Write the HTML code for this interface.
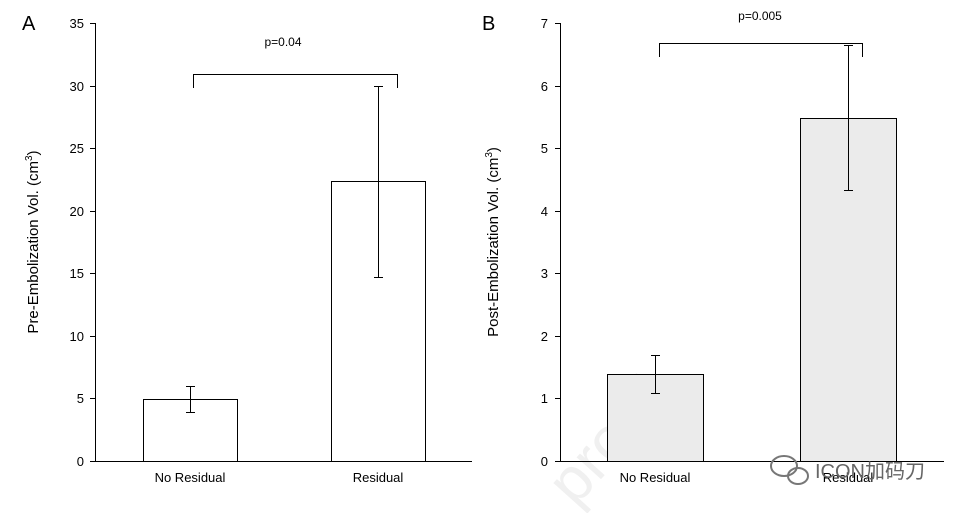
<!DOCTYPE html>
<html><head><meta charset="utf-8"><style>
html,body{margin:0;padding:0;background:#fff;}
svg{display:block;}
text{font-family:"Liberation Sans",Arial,sans-serif;fill:#000;}
</style></head><body>
<svg width="974" height="513" viewBox="0 0 974 513" xmlns="http://www.w3.org/2000/svg">
<text transform="translate(575,508) rotate(-48)" font-size="62" style="fill:#f0f0f0">proof</text>
<g stroke="#000" stroke-width="1" fill="none">
  <line x1="95.5" y1="23" x2="95.5" y2="461"/>
  <line x1="95" y1="461.5" x2="472" y2="461.5"/>
  <g>
    <line x1="90" y1="23.5" x2="95" y2="23.5"/>
    <line x1="90" y1="86.5" x2="95" y2="86.5"/>
    <line x1="90" y1="148.5" x2="95" y2="148.5"/>
    <line x1="90" y1="211.5" x2="95" y2="211.5"/>
    <line x1="90" y1="273.5" x2="95" y2="273.5"/>
    <line x1="90" y1="336.5" x2="95" y2="336.5"/>
    <line x1="90" y1="398.5" x2="95" y2="398.5"/>
    <line x1="90" y1="461.5" x2="95" y2="461.5"/>
  </g>
  <rect x="143.5" y="399.5" width="94" height="62" fill="#fff"/>
  <rect x="331.5" y="181.5" width="94" height="280" fill="#fff"/>
  <line x1="190.5" y1="386" x2="190.5" y2="412"/>
  <line x1="186" y1="386.5" x2="195" y2="386.5"/>
  <line x1="186" y1="412.5" x2="195" y2="412.5"/>
  <line x1="378.5" y1="86" x2="378.5" y2="277"/>
  <line x1="374" y1="86.5" x2="383" y2="86.5"/>
  <line x1="374" y1="277.5" x2="383" y2="277.5"/>
  <polyline points="193.5,88 193.5,74.5 397.5,74.5 397.5,88"/>

  <line x1="560.5" y1="23" x2="560.5" y2="461"/>
  <line x1="560" y1="461.5" x2="944" y2="461.5"/>
  <line x1="555" y1="23.5" x2="560" y2="23.5"/>
  <line x1="555" y1="86.5" x2="560" y2="86.5"/>
  <line x1="555" y1="148.5" x2="560" y2="148.5"/>
  <line x1="555" y1="211.5" x2="560" y2="211.5"/>
  <line x1="555" y1="273.5" x2="560" y2="273.5"/>
  <line x1="555" y1="336.5" x2="560" y2="336.5"/>
  <line x1="555" y1="398.5" x2="560" y2="398.5"/>
  <line x1="555" y1="461.5" x2="560" y2="461.5"/>
  <rect x="607.5" y="374.5" width="96" height="87" fill="#ebebeb"/>
  <rect x="800.5" y="118.5" width="96" height="343" fill="#ebebeb"/>
  <line x1="655.5" y1="355" x2="655.5" y2="393"/>
  <line x1="651" y1="355.5" x2="660" y2="355.5"/>
  <line x1="651" y1="393.5" x2="660" y2="393.5"/>
  <line x1="848.5" y1="45" x2="848.5" y2="190"/>
  <line x1="844" y1="45.5" x2="853" y2="45.5"/>
  <line x1="844" y1="190.5" x2="853" y2="190.5"/>
  <polyline points="659.5,57 659.5,43.5 862.5,43.5 862.5,57"/>
</g>

<g font-size="13" text-anchor="end">
  <text x="84" y="28">35</text><text x="84" y="91">30</text><text x="84" y="153">25</text>
  <text x="84" y="216">20</text><text x="84" y="278">15</text><text x="84" y="341">10</text>
  <text x="84" y="403">5</text><text x="84" y="466">0</text>
  <text x="548" y="28">7</text><text x="548" y="91">6</text><text x="548" y="153">5</text>
  <text x="548" y="216">4</text><text x="548" y="278">3</text><text x="548" y="341">2</text>
  <text x="548" y="403">1</text><text x="548" y="466">0</text>
</g>
<g font-size="13" text-anchor="middle">
  <text x="190" y="482">No Residual</text>
  <text x="378" y="482">Residual</text>
  <text x="655" y="482">No Residual</text>
  <text x="848" y="482">Residual</text>
  <text x="283" y="46" font-size="12">p=0.04</text>
  <text x="760" y="20" font-size="12">p=0.005</text>
</g>
<text x="22" y="30" font-size="20">A</text>
<text x="482" y="30" font-size="20">B</text>
<text transform="translate(38,242) rotate(-90)" font-size="15" text-anchor="middle">Pre-Embolization Vol. (cm<tspan font-size="10" dy="-6">3</tspan><tspan dy="6">)</tspan></text>
<text transform="translate(498,242) rotate(-90)" font-size="15" text-anchor="middle">Post-Embolization Vol. (cm<tspan font-size="10" dy="-6">3</tspan><tspan dy="6">)</tspan></text>
<g fill="none" stroke="#777" stroke-width="2">
  <ellipse cx="784" cy="466" rx="13" ry="10"/>
  <ellipse cx="798" cy="476" rx="10" ry="8"/>
</g>
<text x="815" y="478" font-size="20" style="fill:#666">ICON加码刀</text>
</svg>
</body></html>
